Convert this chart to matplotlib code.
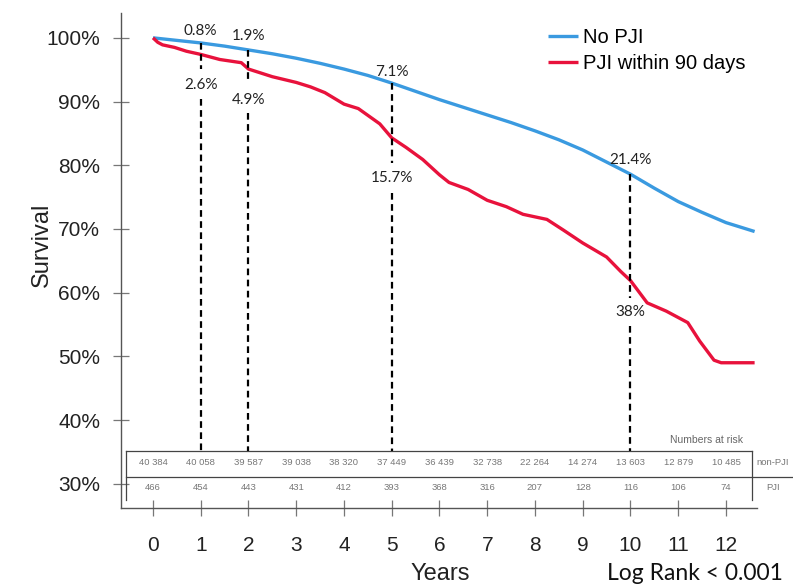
import matplotlib.pyplot as plt
import matplotlib as mpl

# survival curves (years, % surviving)
no_pji_t = [0, 0.5, 1, 1.5, 2, 2.5, 3, 3.5, 4, 4.5, 5, 5.5, 6, 6.5, 7, 7.5, 8,
            8.5, 9, 9.5, 10, 10.5, 11, 11.5, 12, 12.6]
no_pji_s = [100, 99.6, 99.2, 98.7, 98.1, 97.5, 96.8, 96.0, 95.1, 94.1, 92.9,
            91.6, 90.3, 89.1, 87.9, 86.7, 85.4, 84.0, 82.4, 80.5, 78.6, 76.4,
            74.3, 72.6, 71.0, 69.6]

pji_t = [0, 0.1, 0.2, 0.45, 0.7, 1.0, 1.4, 1.85, 2.0, 2.5, 3.0, 3.3, 3.6, 4.0,
         4.3, 4.75, 5.0, 5.3, 5.65, 6.0, 6.2, 6.6, 7.0, 7.4, 7.75, 8.25, 8.6,
         9.0, 9.5, 9.8, 10.0, 10.35, 10.75, 11.2, 11.45, 11.75, 11.9, 12.6]
pji_s = [100, 99.3, 98.9, 98.5, 97.9, 97.4, 96.6, 96.1, 95.1, 93.9, 93.0, 92.3,
         91.4, 89.6, 88.9, 86.5, 84.3, 82.8, 80.9, 78.5, 77.3, 76.2, 74.5, 73.5,
         72.3, 71.5, 69.8, 67.8, 65.6, 63.3, 61.9, 58.4, 57.1, 55.3, 52.4, 49.4,
         49.0, 49.0]

# failure annotations
mark_years = [1, 2, 5, 10]
mark_blue = [99.2, 98.1, 92.9, 78.6]
blue_lbl = ["0.8%", "1.9%", "7.1%", "21.4%"]
red_lbl = ["2.6%", "4.9%", "15.7%", "38%"]

# numbers at risk
risk_years = list(range(13))
risk_nonpji = ["40 384", "40 058", "39 587", "39 038", "38 320", "37 449", "36 439",
               "32 738", "22 264", "14 274", "13 603", "12 879", "10 485"]
risk_pji = ["466", "454", "443", "431", "412", "393", "368", "316", "207",
            "128", "116", "106", "74"]

blue = "#3a9ae0"
red = "#e8123c"

mpl.rcParams['font.family'] = 'Liberation Sans'
fig = plt.figure(figsize=(7.93, 5.86), dpi=100)
ax = fig.add_axes([121/793, 1-508/586, (757-121)/793, (508-13)/586])

ax.plot(no_pji_t, no_pji_s, color=blue, lw=2.4, label="No PJI", solid_capstyle='butt')
ax.plot(pji_t, pji_s, color=red, lw=2.4, label="PJI within 90 days", solid_capstyle='butt')

ax.set_xlim(-0.67, 12.65)
ax.set_ylim(26.2, 103.9)

# gaps in the dashed lines (where the lower labels sit), in % units
gap_top = [95.1, 92.9, 80.4, 59.2]
gap_bot = [90.4, 88.2, 75.7, 54.7]
blue_lbl_y = [101.0, 100.3, 94.7, 80.9]
red_lbl_y = [92.6, 90.3, 78.0, 56.9]
table_top = 35.2
for i, yr in enumerate(mark_years):
    ax.plot([yr, yr], [mark_blue[i], gap_top[i]], color='black', ls=(0, (3, 2)), lw=1.6)
    ax.plot([yr, yr], [gap_bot[i], table_top], color='black', ls=(0, (3, 2)), lw=1.6)
    ax.text(yr, blue_lbl_y[i], blue_lbl[i], ha='center', va='center',
            fontsize=11, family='Lato', color='#222222')
    ax.text(yr, red_lbl_y[i], red_lbl[i], ha='center', va='center',
            fontsize=11, family='Lato', color='#222222')

# numbers at risk table
tcol = '#444444'
left_x, right_x = -0.565, 12.54
mid_y, bot_y = 31.1, 27.5
ax.plot([left_x, right_x], [table_top, table_top], color=tcol, lw=0.9)
ax.plot([left_x, 13.5], [mid_y, mid_y], color=tcol, lw=0.9, clip_on=False)
ax.plot([left_x, left_x], [table_top, bot_y], color=tcol, lw=0.9)
ax.plot([right_x, right_x], [table_top, bot_y], color=tcol, lw=0.9)
for yr, a, b in zip(risk_years, risk_nonpji, risk_pji):
    ax.text(yr, 33.3, a, ha='center', va='center', fontsize=6.8, color='#777777')
    ax.text(yr, 29.4, b, ha='center', va='center', fontsize=6.8, color='#777777')
ax.text(12.98, 33.3, "non-PJI", ha='center', va='center', fontsize=6.8,
        color='#777777', clip_on=False)
ax.text(12.98, 29.4, "PJI", ha='center', va='center', fontsize=6.8,
        color='#777777', clip_on=False)
ax.text(11.6, 36.9, "Numbers at risk", ha='center', va='center', fontsize=7.5,
        color='#666666')

# axes styling
for s in ['top', 'right']:
    ax.spines[s].set_visible(False)
for s in ['left', 'bottom']:
    ax.spines[s].set_color('#555555')
    ax.spines[s].set_linewidth(1.0)
ax.set_xticks(range(13))
ax.set_yticks(range(30, 101, 10))
ax.set_yticklabels([f"{v}%" for v in range(30, 101, 10)])
ax.tick_params(axis='both', direction='inout', length=12, width=0.9,
               color='#777777', labelsize=15, labelcolor='#222222')
ax.tick_params(axis='x', pad=14)
ax.tick_params(axis='y', pad=9)

fig.text(42/793, 1-245/586, "Survival", rotation=90, ha='center', va='center',
         fontsize=17, color='#222222')
fig.text(440/793, 1-574/586, "Years", ha='center', va='center', fontsize=17,
         color='#222222')
fig.text(695/793, 1-574/586, "Log Rank < 0.001", ha='center', va='center',
         fontsize=16.5, family='Lato', color='#111111')

ax.legend(loc='upper left', bbox_to_anchor=(548/793, 1-28/586),
          bbox_transform=fig.transFigure, frameon=False, fontsize=14.5,
          handlelength=1.5, handletextpad=0.25, labelspacing=0.35,
          borderpad=0, borderaxespad=0)

plt.savefig("out.png", dpi=100)
